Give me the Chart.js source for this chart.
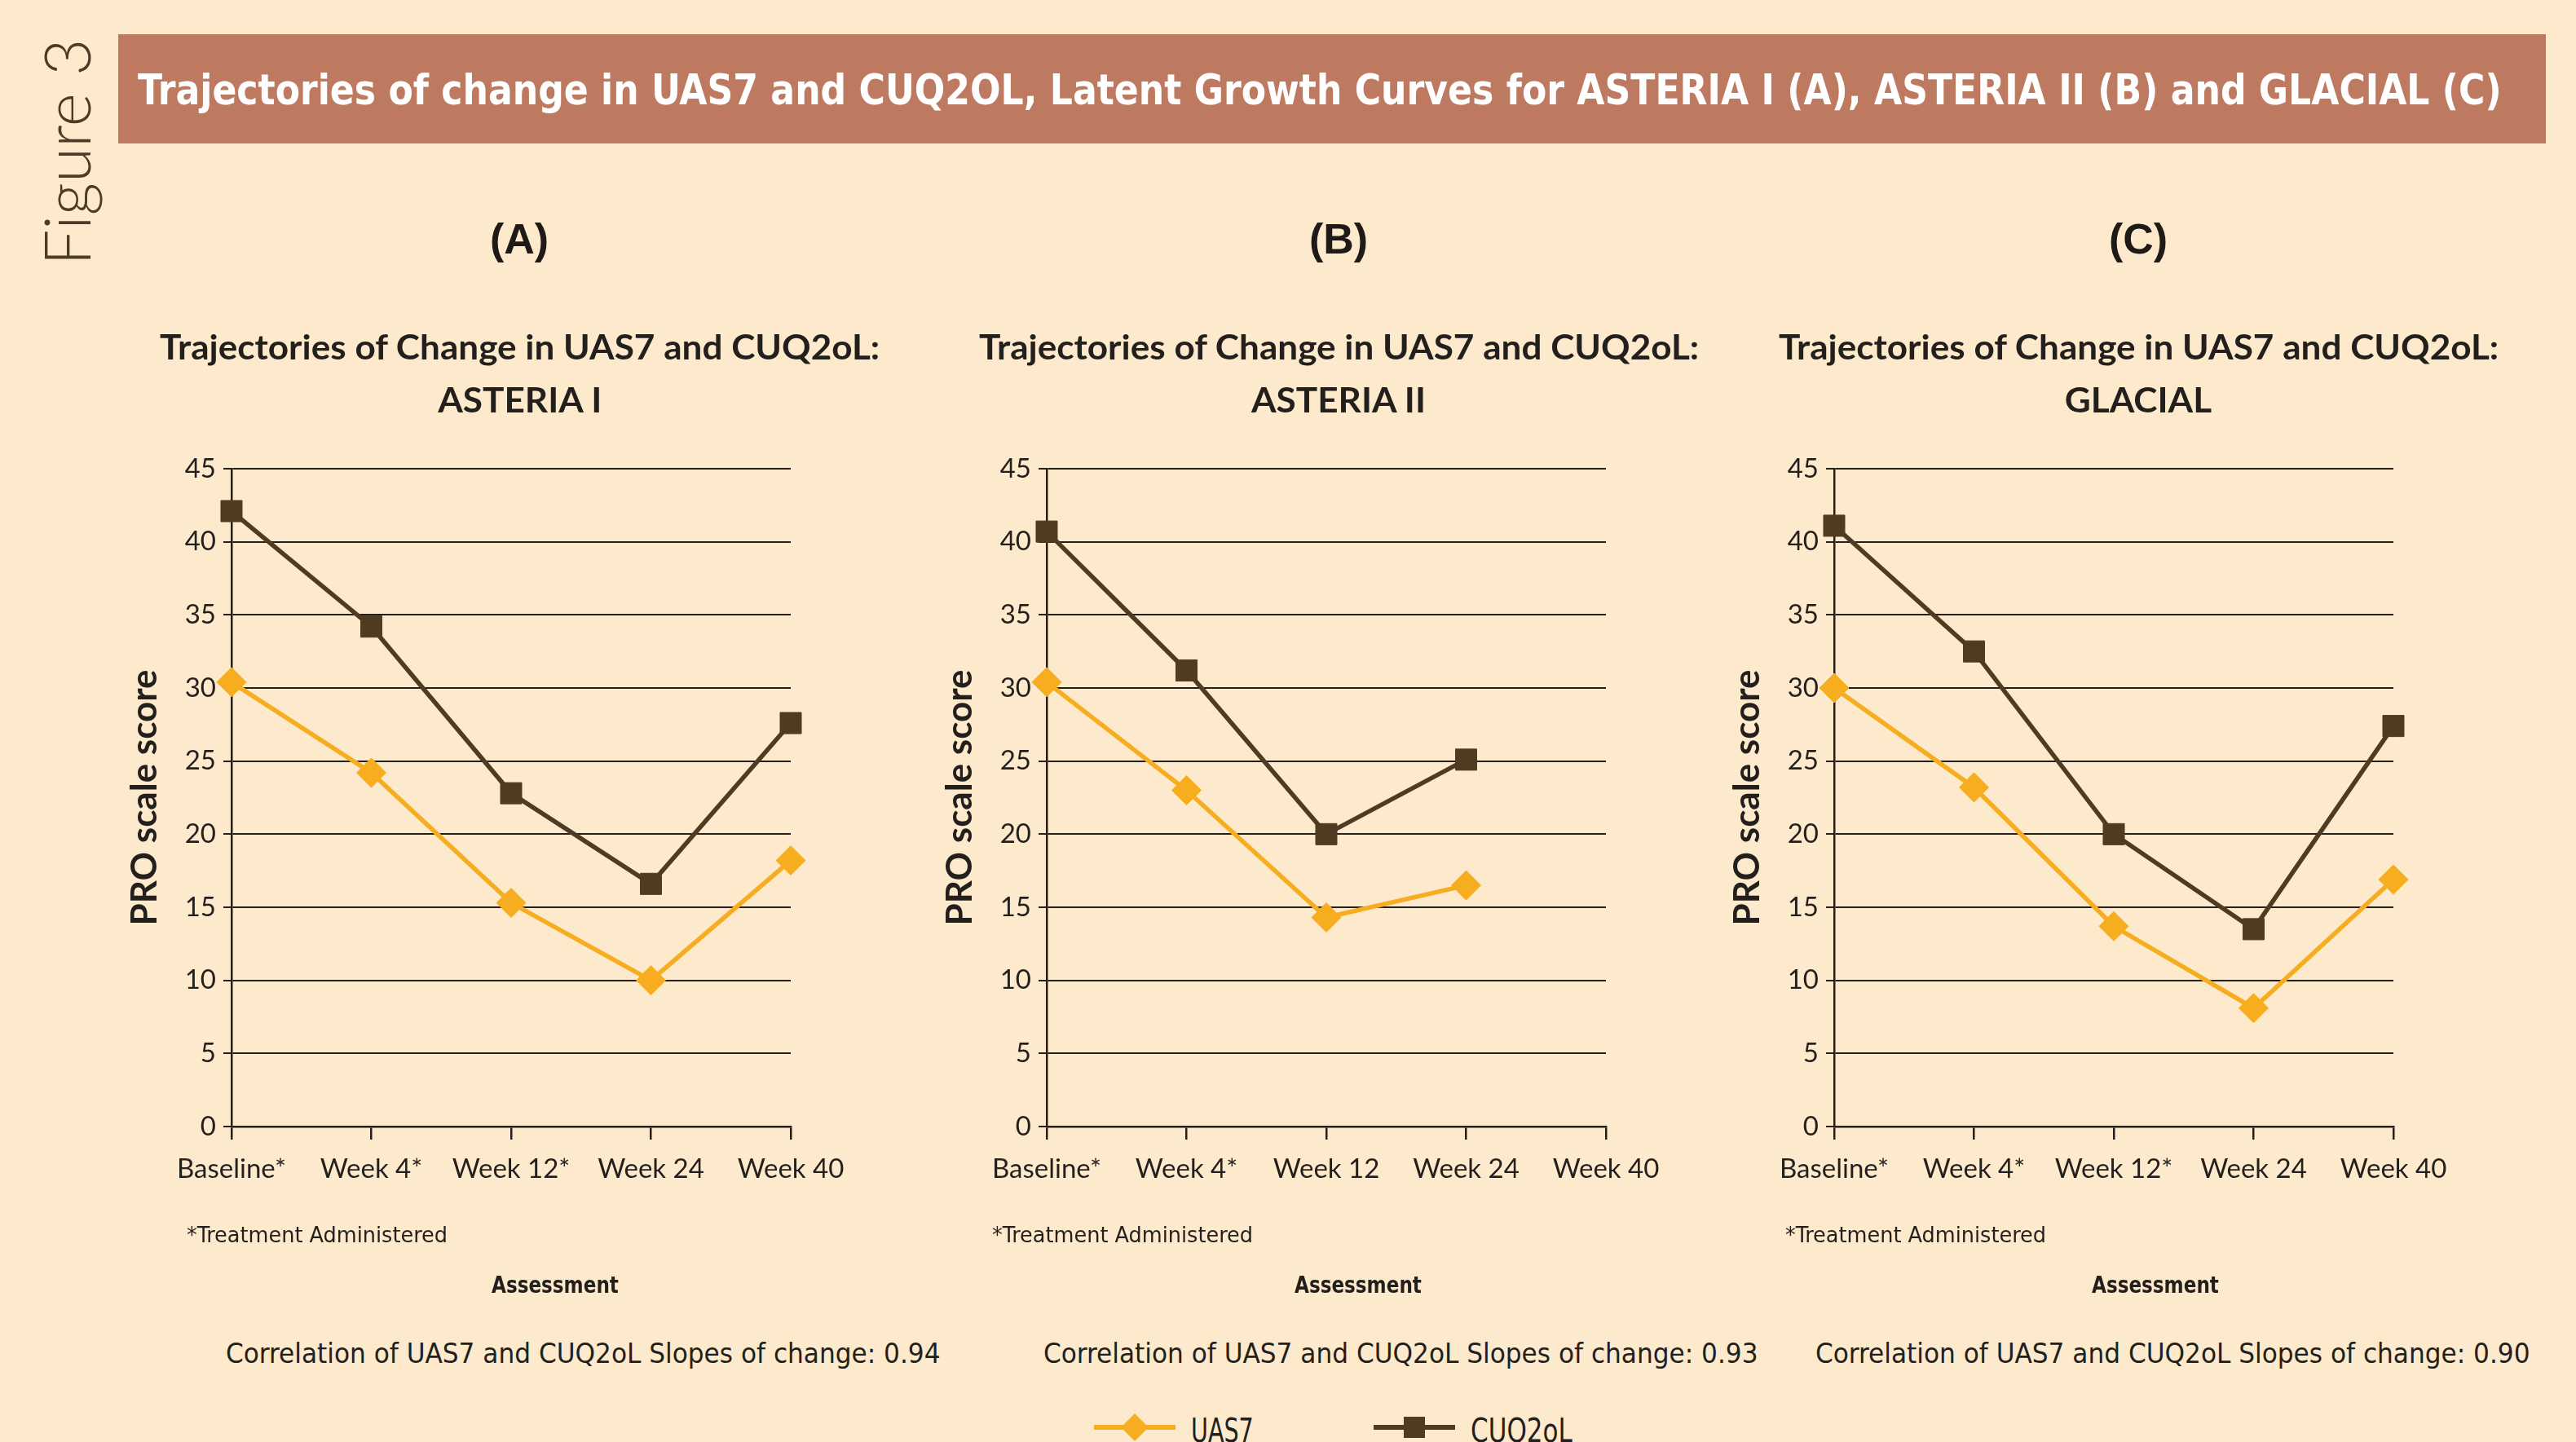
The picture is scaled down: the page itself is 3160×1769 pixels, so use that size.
<!DOCTYPE html>
<html>
<head>
<meta charset="utf-8">
<script src="https://cdn.jsdelivr.net/npm/chart.js@4.4.1/dist/chart.umd.min.js"></script>
<style>
  body { margin: 0; width: 3160px; height: 1769px; overflow: hidden; position: relative; background: #fdeacd; color: #231f1c; }
  .abs { position: absolute; white-space: nowrap; }
  canvas { position: absolute; }
  #barra { left: 145px; top: 42px; width: 2978px; height: 134px; background: #be7a60; }
</style>
</head>
<body>
<div id="barra" class="abs"></div>
<canvas id="graficoA" width="994" height="1230" style="left:140px;top:380px"></canvas>
<canvas id="graficoB" width="1004" height="1230" style="left:1140px;top:380px"></canvas>
<canvas id="graficoC" width="1034" height="1230" style="left:2106px;top:380px"></canvas>

<script>
const categoriasA = ['Baseline*', 'Week 4*', 'Week 12*', 'Week 24', 'Week 40'];
const categoriasB = ['Baseline*', 'Week 4*', 'Week 12', 'Week 24', 'Week 40'];
const categoriasC = ['Baseline*', 'Week 4*', 'Week 12*', 'Week 24', 'Week 40'];

const uas7A = [30.4, 24.2, 15.3, 10.0, 18.2];
const cuqA  = [42.1, 34.2, 22.8, 16.6, 27.6];
const uas7B = [30.4, 23.0, 14.3, 16.5, null];
const cuqB  = [40.7, 31.2, 20.0, 25.1, null];
const uas7C = [30.0, 23.2, 13.7, 8.1, 16.9];
const cuqC  = [41.1, 32.5, 20.0, 13.5, 27.4];

const eixoY = { min: 0, max: 45, passo: 5 };
const estudos = ['ASTERIA I', 'ASTERIA II', 'GLACIAL'];
const paineis = ['(A)', '(B)', '(C)'];
const correlacoes = ['0.94', '0.93', '0.90'];
const series = ['UAS7', 'CUQ2oL'];

const laranja = '#f6ad1f';
const marrom = '#513a22';
const escuro = '#231f1c';
const condensada = "'Liberation Sans Narrow', 'DejaVu Sans Condensed', sans-serif";

function criarGrafico(id, categorias, uas7, cuq, folgaDireita) {
  return new Chart(document.getElementById(id), {
    type: 'line',
    data: {
      labels: categorias,
      datasets: [{
        label: series[0],
        data: uas7,
        borderColor: laranja,
        backgroundColor: laranja,
        borderWidth: 5.5,
        pointStyle: 'rectRot',
        pointRadius: 18,
        pointBorderWidth: 1,
        pointBorderColor: laranja,
        clip: false
      }, {
        label: series[1],
        data: cuq,
        borderColor: marrom,
        backgroundColor: marrom,
        borderWidth: 5.5,
        pointStyle: 'rect',
        pointRadius: 18.4,
        pointBorderWidth: 1,
        pointBorderColor: marrom,
        clip: false
      }]
    },
    options: {
      responsive: false,
      animation: false,
      layout: { padding: { left: 0, right: folgaDireita, top: 195, bottom: 0 } },
      plugins: {
        legend: { display: false },
        tooltip: { enabled: false }
      },
      scales: {
        x: {
          grid: { drawOnChartArea: false, color: escuro, lineWidth: 2.5, tickLength: 16 },
          border: { color: escuro, width: 2.5 },
          ticks: { color: escuro, font: { family: 'Lato', size: 33 }, padding: 17, maxRotation: 0, autoSkip: false },
          afterFit: (escala) => { escala.height = 228; }
        },
        y: {
          min: eixoY.min,
          max: eixoY.max,
          grid: { color: escuro, lineWidth: 2, tickLength: 10 },
          border: { color: escuro, width: 2.5 },
          ticks: { stepSize: eixoY.passo, color: escuro, font: { family: 'Lato', size: 33 }, padding: 9 },
          title: {
            display: true,
            text: 'PRO scale score',
            color: escuro,
            font: { family: 'Lato', size: 44, weight: 'bold', lineHeight: 1.2 },
            padding: { top: 11, bottom: 0 }
          },
          afterFit: (escala) => { escala.width = 144; }
        }
      }
    }
  });
}

criarGrafico('graficoA', categoriasA, uas7A, cuqA, 164);
criarGrafico('graficoB', categoriasB, uas7B, cuqB, 174);
criarGrafico('graficoC', categoriasC, uas7C, cuqC, 204);

// textos em HTML: x, y = centro da linha; alinhar 'left' ou 'center'; largura ou escala opcional
function texto(conteudo, x, y, estilo) {
  const el = document.createElement('div');
  el.className = 'abs';
  el.textContent = conteudo;
  el.style.fontFamily = estilo.familia || condensada;
  el.style.fontSize = estilo.tamanho + 'px';
  el.style.fontWeight = estilo.peso || 'normal';
  el.style.color = estilo.cor || escuro;
  el.style.lineHeight = (estilo.tamanho * 1.4) + 'px';
  document.body.appendChild(el);
  const w = el.offsetWidth;
  const h = el.offsetHeight;
  const escala = estilo.largura ? estilo.largura / w : (estilo.escala || 1);
  const centro = estilo.alinhar === 'center';
  el.style.left = (centro ? x - w / 2 : x) + 'px';
  el.style.top = (y - h / 2) + 'px';
  el.style.transformOrigin = centro ? '50% 50%' : '0 50%';
  let t = 'scaleX(' + escala + ')';
  if (estilo.girar) {
    el.style.left = (x - w / 2) + 'px';
    el.style.transformOrigin = '50% 50%';
    t = 'rotate(-90deg) ' + t;
  }
  el.style.transform = t;
  return escala;
}

texto('Trajectories of change in UAS7 and CUQ2OL, Latent Growth Curves for ASTERIA I (A), ASTERIA II (B) and GLACIAL (C)',
  169, 110, { tamanho: 51, peso: 'bold', cor: '#ffffff', largura: 2900 });
texto('Figure 3', 81, 186, { tamanho: 78, familia: 'Lato', peso: 300, cor: '#4d3b26', largura: 278, girar: true });

const centrosTitulo = [637, 1642, 2623];
const inicioNota = [229, 1217, 2190];
const centroAvaliacao = [681, 1666, 2644];
const inicioCorrelacao = [277, 1280, 2227];

for (let i = 0; i < 3; i++) {
  texto(paineis[i], centrosTitulo[i], 293, { tamanho: 52, familia: "'Liberation Sans', Arial, sans-serif", peso: 'bold', cor: '#1d1a17', alinhar: 'center' });
  const e = texto('Trajectories of Change in UAS7 and CUQ2oL:', centrosTitulo[i], 425, { tamanho: 42, familia: 'Lato', peso: 'bold', largura: 883, alinhar: 'center' });
  texto(estudos[i], centrosTitulo[i], 490, { tamanho: 42, familia: 'Lato', peso: 'bold', escala: e, alinhar: 'center' });
  texto('*Treatment Administered', inicioNota[i], 1515, { tamanho: 27, largura: 320 });
  texto('Assessment', centroAvaliacao[i], 1576, { tamanho: 28, peso: 'bold', largura: 156, alinhar: 'center' });
  texto('Correlation of UAS7 and CUQ2oL Slopes of change: ' + correlacoes[i], inicioCorrelacao[i], 1661, { tamanho: 33, largura: 876 });
}

// legenda
function itemLegenda(nome, cor, forma, x0, largTexto) {
  const linha = document.createElement('div');
  linha.className = 'abs';
  Object.assign(linha.style, { left: x0 + 'px', top: (1751 - 3) + 'px', width: '100px', height: '6px', background: cor });
  document.body.appendChild(linha);
  const marca = document.createElement('div');
  marca.className = 'abs';
  if (forma === 'rectRot') {
    Object.assign(marca.style, { left: (x0 + 50 - 12) + 'px', top: (1751 - 12) + 'px', width: '24px', height: '24px', background: cor, transform: 'rotate(45deg)' });
  } else {
    Object.assign(marca.style, { left: (x0 + 50 - 13) + 'px', top: (1751 - 13) + 'px', width: '26px', height: '26px', background: cor });
  }
  document.body.appendChild(marca);
  texto(nome, x0 + 119, 1755, { tamanho: 40, largura: largTexto });
}
itemLegenda(series[0], laranja, 'rectRot', 1342, 77);
itemLegenda(series[1], marrom, 'rect', 1685, 125);
</script>
</body>
</html>
